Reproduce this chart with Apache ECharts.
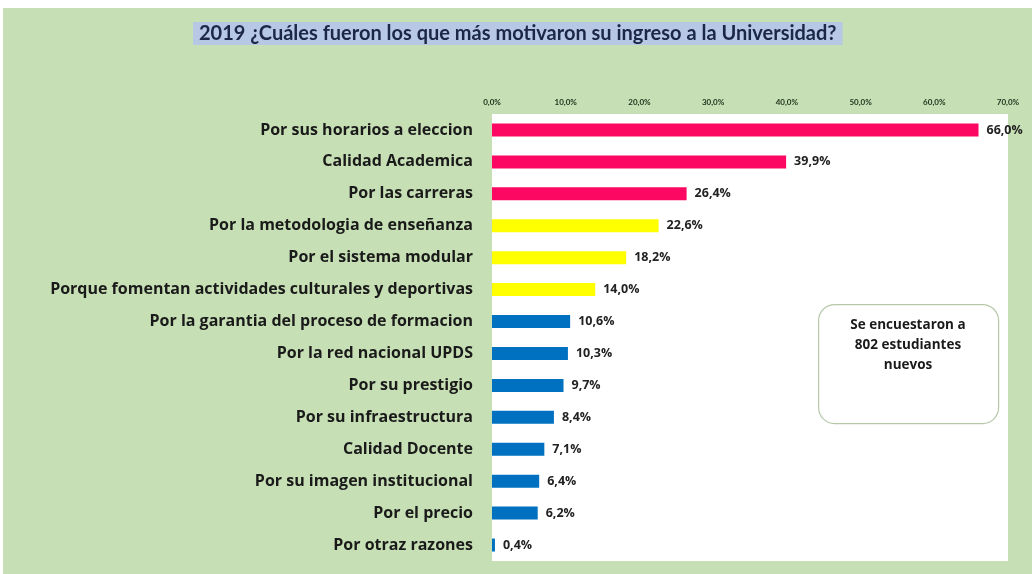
<!DOCTYPE html>
<html>
<head>
<meta charset="utf-8">
<script src="https://cdn.jsdelivr.net/npm/echarts@6/dist/echarts.min.js"></script>
<style>
  html, body { margin: 0; padding: 0; background: #ffffff; }
  #chart { position: absolute; left: 3px; top: 8px; width: 1029px; height: 566px; background: #c6dfb4; }
</style>
</head>
<body>
<div id="chart"></div>
<script>
var titleText = "2019 ¿Cuáles fueron los que más motivaron su ingreso a la Universidad?";
var categories = [
  "Por sus horarios a eleccion",
  "Calidad Academica",
  "Por las carreras",
  "Por la metodologia de enseñanza",
  "Por el sistema modular",
  "Porque fomentan actividades culturales y deportivas",
  "Por la garantia del proceso de formacion",
  "Por la red nacional UPDS",
  "Por su prestigio",
  "Por su infraestructura",
  "Calidad Docente",
  "Por su imagen institucional",
  "Por el precio",
  "Por otraz razones"
];
var values = [66.0, 39.9, 26.4, 22.6, 18.2, 14.0, 10.6, 10.3, 9.7, 8.4, 7.1, 6.4, 6.2, 0.4];
var barColors = [
  "#fc0862", "#fc0862", "#fc0862",
  "#ffff00", "#ffff00", "#ffff00",
  "#0070c0", "#0070c0", "#0070c0", "#0070c0", "#0070c0", "#0070c0", "#0070c0", "#0070c0"
];
var noteLines = ["Se encuestaron a", "802 estudiantes", "nuevos"];

function pct(v) {
  return v.toFixed(1).replace(".", ",") + "%";
}

var dom = document.getElementById("chart");
var myChart = echarts.init(dom, null, { renderer: "canvas" });

var option = {
  animation: false,
  backgroundColor: "#c6dfb4",
  title: {
    text: titleText,
    top: 14,
    left: 190,
    backgroundColor: "#b6c8e4",
    padding: [2, 6, 1, 6],
    textStyle: {
      fontFamily: "Lato",
      fontWeight: "bold",
      fontSize: 20,
      color: "#1c2647"
    }
  },
  grid: {
    left: 489,
    right: 24,
    top: 106,
    bottom: 13,
    show: true,
    backgroundColor: "#ffffff",
    borderWidth: 0
  },
  xAxis: {
    type: "value",
    position: "top",
    min: 0,
    max: 70,
    interval: 10,
    splitLine: { show: false },
    axisLine: { show: false },
    axisTick: { show: false },
    axisLabel: {
      margin: 8,
      fontFamily: "Lato",
      fontWeight: "bold",
      fontSize: 8,
      color: "#24351f",
      formatter: function (v) { return pct(v); }
    }
  },
  yAxis: {
    type: "category",
    inverse: true,
    data: categories,
    axisLine: { show: false },
    axisTick: { show: false },
    axisLabel: {
      margin: 19,
      fontFamily: "Open Sans",
      fontWeight: "bold",
      fontSize: 16,
      color: "#1a1a1a"
    }
  },
  series: [
    {
      type: "bar",
      barWidth: 13,
      data: values.map(function (v, i) {
        return { value: v, itemStyle: { color: barColors[i] } };
      }),
      label: {
        show: true,
        position: "right",
        distance: 8,
        fontFamily: "Open Sans",
        fontWeight: "bold",
        fontSize: 12.5,
        color: "#222222",
        formatter: function (p) { return pct(p.value); }
      }
    }
  ],
  graphic: [
    {
      type: "rect",
      left: 815,
      top: 296,
      shape: { width: 180, height: 119, r: 16 },
      style: { fill: "#ffffff", stroke: "#b7c8a8", lineWidth: 1.2 },
      z: 100
    },
    {
      type: "text",
      x: 905,
      y: 307,
      style: {
        text: noteLines.join("\n"),
        align: "center",
        fontFamily: "Open Sans",
        fontWeight: "bold",
        fontSize: 13.5,
        lineHeight: 20,
        fill: "#1a1a1a"
      },
      z: 101
    }
  ]
};

myChart.setOption(option);
window.addEventListener("resize", myChart.resize);
</script>
</body>
</html>
